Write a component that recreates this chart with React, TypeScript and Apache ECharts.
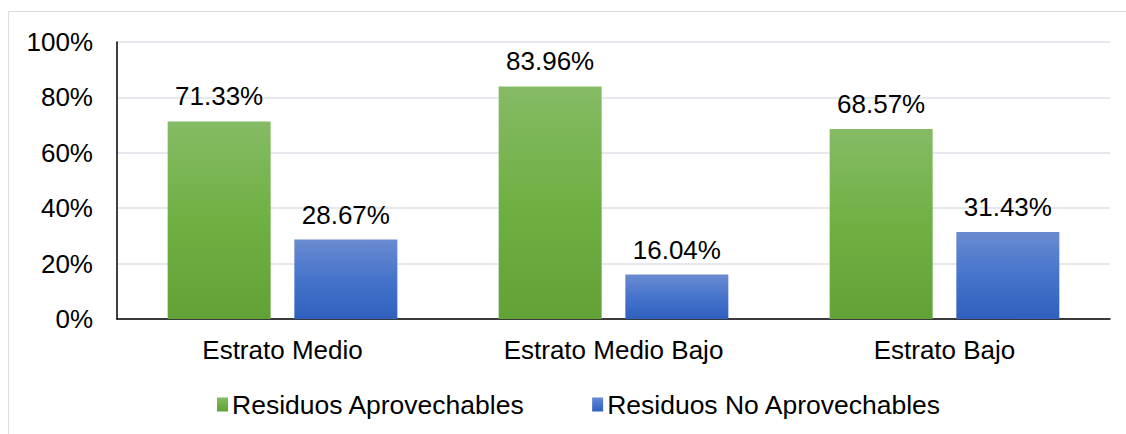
import React, { useEffect, useRef } from "react";
import * as echarts from "echarts";

const categories = ["Estrato Medio", "Estrato Medio Bajo", "Estrato Bajo"];
const aprovechables = [71.33, 83.96, 68.57];
const noAprovechables = [28.67, 16.04, 31.43];
const seriesNames = ["Residuos Aprovechables", "Residuos No Aprovechables"];

const FONT = "'Liberation Sans', Arial, sans-serif";

export default function App() {
  const ref = useRef<HTMLDivElement>(null);
  useEffect(() => {
    const chart = echarts.init(ref.current!, null, { renderer: "svg" });
    const green = new echarts.graphic.LinearGradient(0, 0, 0, 1, [
      { offset: 0, color: "#86bb65" },
      { offset: 0.5, color: "#6fb043" },
      { offset: 1, color: "#62a136" },
    ]);
    const blue = new echarts.graphic.LinearGradient(0, 0, 0, 1, [
      { offset: 0, color: "#6a8bd0" },
      { offset: 0.5, color: "#4674cc" },
      { offset: 1, color: "#2f60bd" },
    ]);
    const labelCfg = {
      show: true,
      position: "top" as const,
      distance: 12,
      formatter: (p: any) => p.value.toFixed(2) + "%",
      fontFamily: FONT,
      fontSize: 26,
      color: "#000",
    };
    chart.setOption({
      animation: false,
      textStyle: { fontFamily: FONT },
      graphic: [
        {
          type: "rect",
          shape: { x: 8.5, y: 11.5, width: 1140, height: 440 },
          style: { fill: "none", stroke: "#d9dee6", lineWidth: 1 },
          silent: true,
        },
      ],
      grid: { left: 117, right: 16, top: 42, bottom: 115 },
      legend: {
        data: seriesNames,
        left: 217,
        top: 391,
        padding: 0,
        itemWidth: 11,
        itemHeight: 14,
        itemGap: 67,
        icon: "rect",
        textStyle: { fontFamily: FONT, fontSize: 26.5, color: "#000", padding: [0, 0, 0, -1] },
      },
      xAxis: {
        type: "category",
        data: categories,
        axisLine: { show: true, lineStyle: { color: "#000", width: 1.5 } },
        axisTick: { show: false },
        axisLabel: { fontFamily: FONT, fontSize: 26, color: "#000", margin: 18 },
      },
      yAxis: {
        type: "value",
        min: 0,
        max: 100,
        interval: 20,
        axisLine: { show: true, lineStyle: { color: "#000", width: 1.5 } },
        axisTick: { show: false },
        axisLabel: {
          formatter: "{value}%",
          fontFamily: FONT,
          fontSize: 26,
          color: "#000",
          margin: 24,
        },
        splitLine: { lineStyle: { color: "#dde2ea", width: 1.5 } },
      },
      series: [
        {
          name: seriesNames[0],
          type: "bar",
          data: aprovechables,
          barWidth: 103,
          barGap: "23%",
          itemStyle: { color: green },
          label: labelCfg,
        },
        {
          name: seriesNames[1],
          type: "bar",
          data: noAprovechables,
          barWidth: 103,
          barGap: "23%",
          itemStyle: { color: blue },
          label: labelCfg,
        },
      ],
    });
    return () => chart.dispose();
  }, []);
  return (
    <div
      ref={ref}
      style={{ position: "fixed", left: 0, top: 0, width: 1126, height: 434, background: "#fff" }}
    />
  );
}
